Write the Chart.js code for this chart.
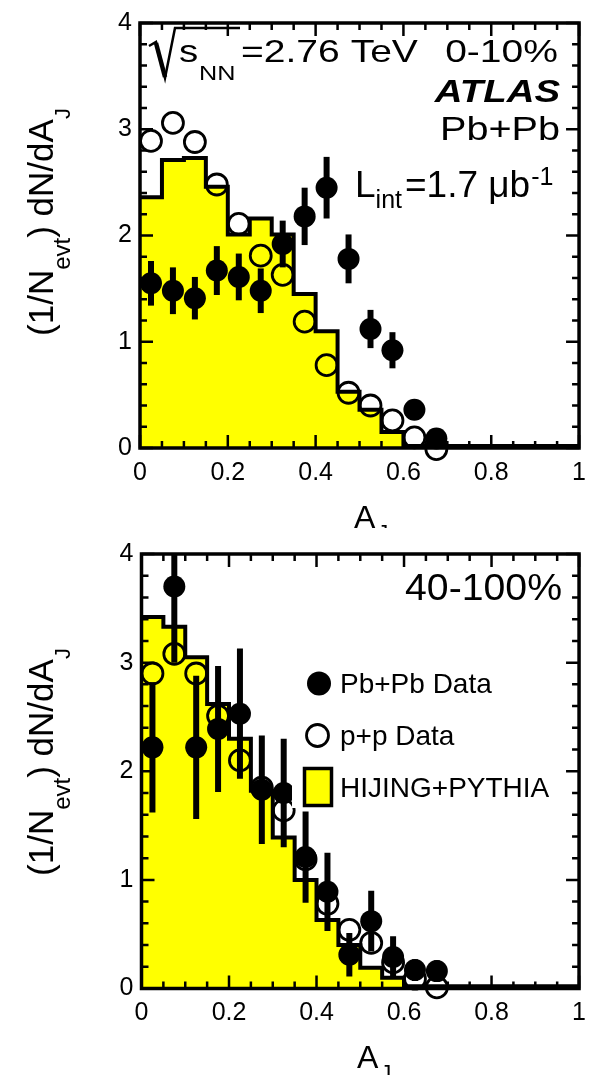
<!DOCTYPE html>
<html>
<head>
<meta charset="utf-8">
<title>Dijet asymmetry A_J</title>
<script src="https://cdn.jsdelivr.net/npm/chart.js@4.4.1/dist/chart.umd.min.js"></script>
<style>
  html, body { margin: 0; padding: 0; background: #fff; }
  #wrap { position: relative; width: 596px; height: 1075px; overflow: hidden; }
  canvas { position: absolute; left: 0; }
  #topPanel { top: 0; }
  #bottomPanel { top: 528px; }
</style>
</head>
<body>
<div id="wrap">
  <canvas id="topPanel" width="596" height="528"></canvas>
  <canvas id="bottomPanel" width="596" height="547"></canvas>
</div>
<script>
const FONT = '"Liberation Sans", Arial, Helvetica, sans-serif';

// A_J bin centres of the measured points
const binCentres = [0.025, 0.075, 0.125, 0.175, 0.225, 0.275, 0.325,
                    0.375, 0.425, 0.475, 0.525, 0.575, 0.625, 0.675];
// left edges of the HIJING+PYTHIA histogram bins
const histEdges = [0, 0.05, 0.1, 0.15, 0.2, 0.25, 0.3, 0.35, 0.4, 0.45,
                   0.5, 0.55, 0.6, 0.65, 0.7, 0.75, 0.8, 0.85, 0.9, 0.95];

// 0-10% centrality
const centralPbPb    = [1.55, 1.48, 1.41, 1.67, 1.61, 1.48, 1.92, 2.18, 2.45, 1.78, 1.12, 0.92, 0.36, 0.09];
const centralPbPbErr = [0.21, 0.22, 0.20, 0.23, 0.22, 0.21, 0.22, 0.27, 0.29, 0.23, 0.18, 0.17, 0.06, 0.05];
const centralPP      = [2.89, 3.06, 2.88, 2.48, 2.11, 1.81, 1.63, 1.19, 0.78, 0.52, 0.40, 0.26, 0.10, -0.01];
const centralHijing  = [2.36, 2.71, 2.73, 2.46, 2.01, 2.16, 2.01, 1.45, 1.10, 0.53, 0.36, 0.15,
                        0.02, 0.02, 0.02, 0.02, 0.02, 0.02, 0.02, 0.02];

// 40-100% centrality
const periphPbPb    = [2.22, 3.70, 2.22, 2.39, 2.53, 1.83, 1.80, 1.21, 0.89, 0.31, 0.62, 0.29, 0.17, 0.16];
const periphPbPbErr = [0.60, 0.70, 0.66, 0.58, 0.60, 0.50, 0.50, 0.42, 0.36, 0.20, 0.28, 0.19, 0.10, 0.10];
const periphPP      = [2.90, 3.08, 2.90, 2.51, 2.10, 1.85, 1.64, 1.19, 0.78, 0.54, 0.42, 0.24, 0.09, 0.01];
const periphHijing  = [3.42, 3.33, 3.05, 2.62, 2.30, 1.82, 1.39, 1.00, 0.63, 0.40, 0.19, 0.10,
                       0.02, 0.02, 0.02, 0.02, 0.02, 0.02, 0.02, 0.02];

const xTickLabels = [0, 0.2, 0.4, 0.6, 0.8, 1];
const yTickLabels = [0, 1, 2, 3, 4];

// draw a text run, optionally stretched horizontally; returns the right end
function txt(c, s, x, y, size, opt) {
  opt = opt || {};
  c.save();
  c.font = (opt.style || '') + ' ' + size + 'px ' + FONT;
  c.fillStyle = '#000';
  c.textBaseline = 'alphabetic';
  c.textAlign = 'left';
  const sx = opt.sx || 1;
  const w = c.measureText(s).width * sx;
  const x0 = opt.align === 'right' ? x - w : x;
  c.translate(x0, y);
  c.scale(sx, 1);
  c.fillText(s, 0, 0);
  c.restore();
  return x0 + w;
}

// rotated "(1/N_evt) dN/dA_J"
function yTitle(c, baseX, centreY) {
  const parts = [['(1/N', 35, 0], ['evt', 24, 17], [') dN/dA', 35, 0], ['J', 22, 17]];
  c.save();
  let total = 0;
  parts.forEach(p => { c.font = p[1] + 'px ' + FONT; total += c.measureText(p[0]).width; });
  c.translate(baseX, centreY);
  c.rotate(-Math.PI / 2);
  let x = -total / 2;
  parts.forEach(p => { x = txt(c, p[0], x, p[2], p[1]); });
  c.restore();
}

function xTitle(c, x, baseline) {
  const end = txt(c, 'A', x, baseline, 32);
  txt(c, 'J', end + 2, baseline + 12, 22);
}

function buildPanel(canvasId, panel) {
  const canvas = document.getElementById(canvasId);
  const H = canvas.height;
  const histPoints = histEdges.map((x, i) => ({ x: x, y: panel.hijing[i] }));
  histPoints.push({ x: 1, y: panel.hijing[panel.hijing.length - 1] });

  const decor = {
    id: 'atlasDecor',
    afterDatasetsDraw(chart) {
      const c = chart.ctx, xs = chart.scales.x, ys = chart.scales.y, a = chart.chartArea;
      // statistical errors of the Pb+Pb points
      c.save();
      c.beginPath();
      c.rect(a.left, a.top, a.right - a.left, a.bottom - a.top);
      c.clip();
      c.strokeStyle = '#000';
      c.lineWidth = 6;
      binCentres.forEach((x, i) => {
        const px = xs.getPixelForValue(x);
        c.beginPath();
        c.moveTo(px, ys.getPixelForValue(panel.pb[i] - panel.pbErr[i]));
        c.lineTo(px, ys.getPixelForValue(panel.pb[i] + panel.pbErr[i]));
        c.stroke();
      });
      c.restore();
      if (panel.legend) panel.legend(c);
    },
    afterDraw(chart) {
      const c = chart.ctx, xs = chart.scales.x, ys = chart.scales.y, a = chart.chartArea;
      c.save();
      c.strokeStyle = '#000';
      // inward ticks on all four sides
      c.lineWidth = 2.5;
      c.beginPath();
      for (let i = 0; i <= 20; i++) {
        const px = xs.getPixelForValue(i * 0.05);
        const len = i % 4 === 0 ? 13 : 7;
        c.moveTo(px, a.bottom); c.lineTo(px, a.bottom - len);
        c.moveTo(px, a.top); c.lineTo(px, a.top + len);
      }
      for (let i = 0; i <= 20; i++) {
        const py = ys.getPixelForValue(i * 0.2);
        const len = i % 5 === 0 ? 13 : 7;
        c.moveTo(a.left, py); c.lineTo(a.left + len, py);
        c.moveTo(a.right, py); c.lineTo(a.right - len, py);
      }
      c.stroke();
      // frame
      c.lineWidth = 3.5;
      c.strokeRect(a.left, a.top, a.right - a.left, a.bottom - a.top);
      c.restore();
      yTitle(c, 53, panel.titleY);
      xTitle(c, panel.xTitleX, panel.xTitleBase);
      panel.labels(c);
    }
  };

  return new Chart(canvas.getContext('2d'), {
    type: 'scatter',
    data: {
      datasets: [
        {
          type: 'line', label: 'HIJING+PYTHIA', data: histPoints, stepped: 'before',
          borderColor: '#000', borderWidth: 4, backgroundColor: '#ffff00',
          fill: 'origin', pointRadius: 0, order: 3
        },
        {
          label: 'p+p Data', data: binCentres.map((x, i) => ({ x: x, y: panel.pp[i] })),
          pointStyle: 'circle', pointRadius: 10.5, backgroundColor: 'rgba(0,0,0,0)',
          borderColor: '#000', borderWidth: 2.8, order: 2, clip: false
        },
        {
          label: 'Pb+Pb Data', data: binCentres.map((x, i) => ({ x: x, y: panel.pb[i] })),
          pointStyle: 'circle', pointRadius: 11, backgroundColor: '#000',
          borderColor: '#000', borderWidth: 0, order: 1, clip: false
        }
      ]
    },
    options: {
      responsive: false,
      animation: false,
      devicePixelRatio: 1,
      events: [],
      layout: { padding: { top: panel.area.top, right: 596 - panel.area.right, left: 0, bottom: 0 } },
      plugins: { legend: { display: false }, tooltip: { enabled: false } },
      scales: {
        x: {
          type: 'linear', min: 0, max: 1,
          grid: { display: false, drawTicks: false }, border: { display: false },
          afterBuildTicks: s => { s.ticks = xTickLabels.map(v => ({ value: v })); },
          ticks: { font: { size: 25, family: FONT }, color: '#000', padding: 10,
                   maxRotation: 0, autoSkip: false, callback: v => String(v) },
          afterFit: s => { s.height = H - panel.area.bottom; }
        },
        y: {
          type: 'linear', min: 0, max: 4,
          grid: { display: false, drawTicks: false }, border: { display: false },
          afterBuildTicks: s => { s.ticks = yTickLabels.map(v => ({ value: v })); },
          ticks: { font: { size: 25, family: FONT }, color: '#000', padding: 8,
                   autoSkip: false, callback: v => String(v) },
          afterFit: s => { s.width = panel.area.left; }
        }
      }
    },
    plugins: [decor]
  });
}

// 0-10% panel
buildPanel('topPanel', {
  pb: centralPbPb, pbErr: centralPbPbErr, pp: centralPP, hijing: centralHijing,
  area: { left: 140, right: 582, top: 14, bottom: 448 },
  titleY: 222, xTitleX: 354, xTitleBase: 528,
  labels(c) {
    // radical sign of sqrt(s_NN)
    c.save();
    c.strokeStyle = '#000';
    c.lineJoin = 'miter';
    c.lineWidth = 2.5;
    c.beginPath();
    c.moveTo(149, 46); c.lineTo(156, 42); c.lineTo(165, 78); c.lineTo(175, 28); c.lineTo(240, 28);
    c.stroke();
    c.lineWidth = 4.5;
    c.beginPath(); c.moveTo(156, 43); c.lineTo(165, 77); c.stroke();
    c.restore();
    txt(c, 's', 179, 62, 32, { sx: 1.2 });
    txt(c, 'NN', 199, 80, 21, { sx: 1.2 });
    txt(c, '=2.76 TeV', 241, 62, 32, { sx: 1.22 });
    txt(c, '0-10%', 558, 62, 32, { sx: 1.22, align: 'right' });
    txt(c, 'ATLAS', 560, 102, 32, { sx: 1.2, align: 'right', style: 'italic bold' });
    txt(c, 'Pb+Pb', 560, 140, 33, { sx: 1.2, align: 'right' });
    let x = txt(c, 'L', 355, 197, 37);
    x = txt(c, 'int', x, 208, 25);
    x = txt(c, '=1.7 \u03bcb', x + 3, 197, 37);
    txt(c, '-1', x + 1, 185, 25);
  }
});

// 40-100% panel
buildPanel('bottomPanel', {
  pb: periphPbPb, pbErr: periphPbPbErr, pp: periphPP, hijing: periphHijing,
  area: { left: 141.5, right: 583, top: 26, bottom: 460.5 },
  titleY: 234, xTitleX: 357, xTitleBase: 540,
  legend(c) {
    c.save();
    c.fillStyle = '#fff';
    c.fillRect(292, 127, 274, 153);
    c.fillStyle = '#000';
    c.beginPath(); c.arc(319, 155.5, 12, 0, Math.PI * 2); c.fill();
    c.strokeStyle = '#000';
    c.lineWidth = 2.8;
    c.beginPath(); c.arc(317.5, 207.5, 11, 0, Math.PI * 2); c.stroke();
    c.fillStyle = '#ffff00';
    c.fillRect(304.5, 240.5, 27, 37);
    c.lineWidth = 3.5;
    c.strokeRect(304.5, 240.5, 27, 37);
    c.restore();
    txt(c, 'Pb+Pb Data', 340, 165, 28);
    txt(c, 'p+p Data', 340, 217, 28);
    txt(c, 'HIJING+PYTHIA', 340, 269, 28);
  },
  labels(c) {
    txt(c, '40-100%', 562, 72, 37, { sx: 1.06, align: 'right' });
  }
});
</script>
</body>
</html>
